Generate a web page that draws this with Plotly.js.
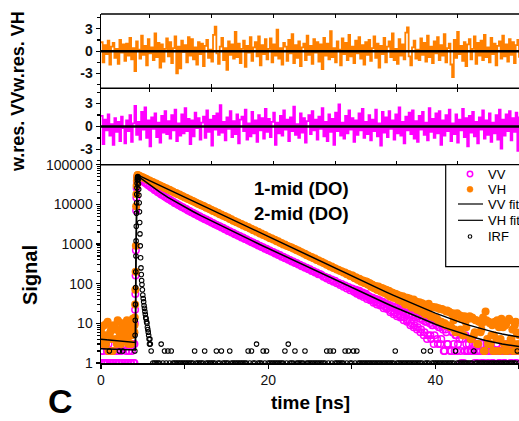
<!DOCTYPE html>
<html><head><meta charset="utf-8">
<script src="https://cdn.plot.ly/plotly-3.0.1.min.js"></script>
<style>html,body{margin:0;padding:0;background:#fff;}#chart{width:519px;height:421px;}</style>
</head><body><div id="chart"></div>
<script>
// ---------- data ----------
const timeStep = 0.2; // ns between channels of the data grid (t = 0 ... 50 ns)

const vhCounts = [
6,4,9,3,11,5,7,2,8,4,12,6,3,10,5,7,4,9,3,13,6,
9000,
55000,52900,49800,48300,45400,44000,41300,40200,37700,36700,
34300,33500,31300,30500,28500,27900,26000,25400,23700,23200,
21600,21100,19700,19300,18000,17600,16400,16000,14900,14700,
13700,13300,12500,12100,11400,11000,10400,10100,9500,9200,
8800,8200,8050,7500,7300,6800,6700,6200,6100,5650,
5550,5150,5100,4700,4650,4280,4200,3850,3800,3560,
3500,3250,3200,2950,2920,2700,2680,2450,2430,2230,
2220,2050,2030,1850,1840,1690,1680,1540,1530,1400,
1400,1300,1290,1180,1170,1070,1060,970,970,900,
880,840,820,770,750,700,690,640,620,580,
565,520,515,475,470,435,430,395,390,360,
355,330,325,300,295,272,270,248,245,228,
224,208,207,190,190,172,175,157,160,147,
138,137,126,128,115,119,104,112,96,99,
95,79,86,70,85,66,78,74,60,67,
66,47,60,44,56,53,39,48,36,45,
30,44,39,28,25,40,36,22,33,21,
32,19,17,28,31,15,26,14,25,13,
24,11,23,10,9,21,20,8,17,12,
6,18,16,7,15,5,11,14,13,4,
14,5,12,3,11,6,10,2,20,4,
11,3,9,5,2,12,8,4,10,3,
9,2,13,4,7,3,11,2,5];

const vvCounts = [
1,2,1,3,1,2,1,1,2,1,3,1,2,1,1,2,1,2,1,3,1,
7000,
49000,45800,41500,39200,35600,33800,30700,29100,26600,25300,
23100,22000,20200,19300,17700,17000,15700,15000,13800,13300,
12300,11800,10900,10500,9750,9400,8750,8450,7850,7600,
7050,6850,6350,6150,5700,5560,5180,5020,4680,4550,
4240,4130,3840,3740,3480,3390,3160,3080,2870,2800,
2600,2560,2360,2320,2140,2110,1950,1920,1770,1750,
1620,1590,1470,1450,1340,1320,1220,1200,1110,1100,
1010,1000,920,910,840,830,765,755,700,690,
640,630,580,575,530,525,480,480,440,435,
400,398,365,362,333,330,303,302,277,275,
252,252,230,230,210,209,191,192,174,175,
165,150,150,135,140,122,128,112,118,102,
106,92,98,84,90,76,82,68,76,64,
68,56,63,50,58,46,54,41,49,38,
44,33,40,30,38,28,35,24,32,23,
29,19,26,17,25,15,22,14,21,12,
18,11,17,9,16,8,14,7,15,6,
13,5,11,4,12,5,9,3,10,4,
8,3,9,2,7,3,8,2,6,3,
5,2,6,2,4,1,5,2,3,2,
4,2,3,1,2,2,3,1,2,2,
3,2,1,2,2,3,1,2,2,1,
2,3,2,1,2,2,1,2,2];

// half-step channels (t = 0.1 ... 3.9 ns and t = 30.1 ... 49.9 ns)
const vhPreHalfCounts = [8,3,5,10,2,6,4,9,7,3,11,5,8,4,6,12,3,7,5,9];
const vvPreHalfCounts = [2,1,1,2,3,1,2,1,1,2,1,2,1,3,1,1,2,1,2,1];
const vhTailHalfCounts = [
160,139,146,125,133,112,121,104,113,95,
104,84,93,77,86,70,79,63,72,58,
70,52,64,48,58,44,53,40,50,36,
48,33,44,30,42,27,38,25,35,23,
34,20,31,18,29,17,27,15,26,14,
25,12,23,11,22,10,20,9,19,8,
18,7,17,6,16,13,5,15,8,14,
15,4,13,6,12,3,11,7,14,2,
12,3,10,5,2,11,4,9,2,13,
8,2,10,3,12,4,2,9,6,3];
const vvTailHalfCounts = [
74,62,70,57,66,53,60,50,56,46,
47,40,44,36,41,33,38,30,35,27,
31,24,29,21,27,19,25,17,23,15,
20,14,19,12,17,10,16,9,15,8,
13,7,12,6,11,5,10,4,9,5,
9,3,8,4,7,2,6,3,8,2,
6,2,5,3,4,1,5,2,3,2,
4,2,3,1,2,3,2,1,2,2,
3,1,2,2,1,2,3,2,1,2,
2,1,2,3,2,1,2,2,1,2];

// extra channels on the rising edge
const riseTimes    = [4.00,4.04,4.08,4.11,4.14,4.17,4.23,4.26,4.29,4.32,4.36];
const vhRiseCounts = [9,14,30,70,200,900,18000,30000,40000,48000,54000];
const vvRiseCounts = [3,10,22,55,160,700,15000,26000,37000,45000,51000];

// fitted curves
const fitTimes = [0,1,2,3,4,4.12,4.16,4.2,4.25,4.3,4.35,4.4,4.5,4.7,
 5,6,7,8,9,10,11,12,13,14,15,16,17,18,19,20,21,22,23,24,25,26,27,28,29,30,
 31,32,33,34,35,36,37,38,39,40,41,42,43,44,45,46,47,48,49,50];
const vhFit = [3.95,3.78,3.62,3.47,3.33,3.3,200,3000,15000,32000,46000,52500,53500,51500,
 47900,38000,30200,24000,19070,15150,12030,9560,7590,6030,4790,3806,3023,2401,1908,1515,
 1204,956,759,603,479,381,303,240,191,154,123,98.6,79,63.3,50.9,41,33.2,27,22.1,18.1,
 15,12.6,10.6,9.0,7.8,6.8,6.0,5.4,4.9,4.5];
const vvFit = [2.3,2.26,2.22,2.18,2.15,2.14,180,2800,14000,30000,44000,50500,50000,46500,
 41800,28900,20610,15080,11270,8570,6600,5120,4010,3150,2480,1960,1550,1230,975,775,
 615,489,389,309,246,196,156,124,99,78.9,63.1,50.5,40.5,32.5,26.2,21.2,17.2,14,11.5,9.5,
 7.9,6.7,5.7,4.9,4.2,3.7,3.3,3.0,2.8,2.6];

// instrument response function
const irfPeakTimes = [4.05,4.08,4.10,4.12,4.14,4.16,4.18,4.20,4.22,4.24,4.26,4.28,4.30,4.32,4.34,4.36,4.38,4.40,4.42,
 4.45,4.48,4.51,4.54,4.57,4.60,4.63,4.66,4.70,4.74,4.78,4.82,4.86,4.90,
 4.95,5.00,5.05,5.10,5.15,5.20,5.25,5.30,5.35,5.40,5.45,5.50,5.55,5.60,5.65,5.70,5.75,5.80,5.85,5.90];
const irfPeakCounts = [2,5,12,30,80,200,500,1200,2800,6000,11000,18000,26000,34000,41000,46000,49000,50000,48000,
 42000,33000,24000,17000,11000,6500,3500,1800,900,450,250,170,120,95,
 70,52,42,35,28,24,20,17,14,13,11,10,8,7,6,5,4,3,4,3];
const irfGridCounts = [
0,0,0,0,0,2,0,0,0,0,0,2,0,2,0,0,0,0,0,0,0,
0,0,0,0,0,0,0,0,0,
2,1,1,1,1,1,3,1,2,1,
2,1,2,1,1,1,1,1,1,1,
1,1,1,1,1,1,2,1,1,1,
1,1,2,1,1,1,1,1,1,2,
1,1,2,1,1,1,1,2,1,1,
1,1,1,1,1,1,1,1,2,1,
2,1,1,3,1,1,1,2,1,2,
1,1,1,1,1,1,1,1,1,1,
2,1,3,1,1,1,2,1,1,1,
1,1,2,1,1,1,1,1,1,1,
1,1,1,1,1,2,1,2,1,2,
1,1,1,1,1,1,2,1,2,1,
1,2,1,2,1,1,1,1,1,1,
1,1,1,1,1,1,1,1,1,1,
1,1,1,1,1,1,2,1,1,1,
1,1,1,1,1,1,1,1,1,1,
1,1,1,2,1,1,1,2,1,1,
1,1,1,1,1,1,1,1,1,1,
1,1,2,1,1,1,1,1,1,1,
1,1,1,2,1,1,1,1,1,1,
1,1,1,1,1,1,1,1,1,1,
1,1,1,1,1,1,1,1,1,2,
1];

// weighted residuals
const vhResiduals = [
1.2,-1.5,0.8,-0.4,1.4,-1.8,0.6,1.1,-0.9,0.3,-1.7,1.5,-0.2,0.9,-1.3,1.0,-0.6,1.8,-1.1,0.4,
-2.7,1.3,0.2,-1.0,2.1,-0.5,0.7,-1.9,1.6,-0.3,0.5,-1.2,2.4,-0.8,1.1,-2.2,0.9,-1.4,0.3,1.7,
-0.7,1.2,-1.6,0.4,2.0,-3.0,0.6,-2.3,1.4,-0.1,0.8,-1.5,1.9,-0.6,1.6,-1.1,0.5,-1.8,1.2,-0.4,
1.0,-2.0,0.7,1.5,-0.9,0.2,-1.4,2.2,3.3,-0.3,-1.7,0.6,1.8,-1.2,0.4,-2.5,1.3,-0.5,0.9,-1.0,
2.6,-0.8,1.0,-1.6,0.3,1.4,-2.1,0.7,-0.2,1.9,-1.3,0.5,1.2,-0.7,2.0,-1.9,0.8,-0.4,1.6,-1.1,
0.3,1.7,-1.5,0.9,-0.6,2.9,-1.0,0.4,-1.8,1.1,0.6,-1.3,1.5,-0.3,2.3,-1.6,0.8,-0.9,1.3,-2.0,
0.5,1.0,-1.2,2.1,-0.5,0.7,-1.7,1.6,-0.2,1.2,-1.4,0.9,-2.4,1.8,-0.6,1.0,-1.1,2.7,-0.8,0.4,
-1.5,1.3,0.2,-1.9,1.7,-0.4,1.1,-1.2,2.2,-0.7,0.6,-1.6,1.4,-0.3,1.9,-1.0,0.8,-1.8,1.2,-0.5,
1.5,-1.3,0.4,2.0,-0.9,1.0,-2.2,0.7,-0.4,1.8,-1.5,0.6,1.3,-0.8,2.4,-1.2,0.3,-1.7,1.6,-0.6,
0.9,-1.1,2.5,3.2,-0.7,-1.9,0.5,1.4,-1.0,0.2,-1.2,1.7,-0.5,1.1,-1.4,2.1,-0.8,0.6,-1.6,1.3,
-0.3,1.9,-1.2,0.8,-0.6,2.3,-1.5,0.4,1.0,-1.8,-3.5,1.5,-0.9,2.6,-0.4,0.7,-1.3,1.2,-2.0,0.9,
1.6,-1.1,0.3,2.0,-1.7,1.1,-0.6,1.4,-1.2,2.2,-0.8,0.5,-1.5,1.8,-0.4,1.0,-1.9,0.7,1.3,-1.0,
2.1,-0.7,0.9,-1.4,1.6,-0.5,1.2,-1.6,0.8,1.5,-0.9];
const vvResiduals = [
1.4,-2.3,0.9,-0.5,1.6,-1.2,0.3,-2.4,1.1,-0.7,0.6,-1.9,1.3,-0.2,-2.2,0.8,-0.6,1.5,-2.0,0.4,
2.7,-1.1,0.6,-1.7,1.9,-0.4,2.5,-1.5,0.8,-2.6,1.2,-0.3,1.7,-1.4,0.5,-2.1,1.4,-0.8,2.0,-1.0,
0.7,-1.6,1.5,-0.5,2.2,-1.9,0.4,-1.2,1.6,-0.9,2.4,-0.6,1.0,-2.3,0.8,-1.3,1.8,-0.2,1.1,-1.7,
0.5,1.3,-1.5,2.1,-0.7,0.9,-2.5,1.4,-0.4,1.7,-1.1,2.8,-0.8,0.6,-1.8,1.2,-0.3,2.0,-1.4,0.7,
-1.0,1.6,-2.2,0.9,1.3,-0.6,2.2,-1.7,0.4,-1.3,1.9,-0.9,0.8,-2.0,1.5,-0.5,1.1,-1.6,2.3,-0.7,
1.0,-1.4,0.6,1.8,-2.4,0.5,-0.9,1.4,-1.2,2.1,-0.4,0.9,-1.9,1.2,-0.6,2.6,-1.1,0.3,-1.5,1.7,
-0.8,1.1,-2.1,0.7,1.5,-1.0,2.0,-0.5,0.9,-1.7,1.3,-0.3,2.4,-1.3,0.6,-1.9,1.6,-0.7,1.0,-2.4,
1.8,-0.6,2.9,-1.2,0.5,-1.6,1.4,-0.9,2.1,-0.4,1.1,-2.0,0.8,-1.1,1.7,-0.5,2.3,-1.5,0.6,-1.0,
1.5,-1.8,0.9,-0.6,2.2,-1.3,0.4,-2.5,1.9,-0.8,1.2,-1.4,2.0,-0.3,0.8,-1.7,1.6,-0.9,2.5,-1.2,
0.6,-2.2,1.3,-0.5,1.8,-1.0,2.1,-1.6,0.7,-2.0,1.4,-0.4,1.9,-1.1,0.5,-1.8,2.4,-0.7,1.0,-1.5,
1.7,-0.9,2.0,-2.4,0.8,-1.2,1.5,-0.6,2.2,-1.9,0.4,-1.0,1.6,-2.1,0.9,-0.5,2.3,-1.4,1.1,-2.6,
1.4,-0.8,1.9,-1.3,0.6,-2.2,1.2,-0.4,2.1,-1.6,0.8,-1.1,1.7,-2.0,0.5,-0.9,1.5,-1.7,2.2,-2.9,
0.9,-1.2,1.6,-0.6,2.0,-1.8,1.1,-0.7,1.8,-3.2,1.3];

// axis ticks
const residualTickVals = [-3, 0, 3];
const residualTickText = ['-3', '0', '3'];
const residualMinorVals = [-4.5, -1.5, 1.5, 4.5];
const boundaryTickTimes = [5.8, 13.2, 20.6, 28.0, 35.3, 42.7, 50.1];
const legendLabels = ['VV', 'VH', 'VV fit', 'VH fit', 'IRF'];

// ---------- drawing ----------
const FONT = 'Arial, "Liberation Sans", sans-serif';
const ORANGE = '#ff8000', MAGENTA = '#ff00ff';
const W = 519, H = 421;
const M = {l: 101, r: 0, t: 14, b: 58};
const plotW = W - M.l - M.r, plotH = H - M.t - M.b;
const px = x => (x - M.l) / plotW;
const py = y => (H - M.b - y) / plotH;

const gridTimes = vhCounts.map((_, i) => +(i * timeStep).toFixed(2));
const preHalfTimes = vhPreHalfCounts.map((_, i) => +(0.1 + i * timeStep).toFixed(2));
const tailHalfTimes = vhTailHalfCounts.map((_, i) => +(30.1 + i * timeStep).toFixed(2));

const irfX = [], irfY = [];
gridTimes.forEach((t, i) => { if (irfGridCounts[i] > 0) { irfX.push(t); irfY.push(irfGridCounts[i]); } });
irfPeakTimes.forEach((t, i) => { irfX.push(t); irfY.push(irfPeakCounts[i]); });

const dataX = gridTimes.concat(riseTimes, preHalfTimes, tailHalfTimes);
const traces = [
  {type:'scatter', mode:'markers', name:'VV', x: dataX,
   y: vvCounts.concat(vvRiseCounts, vvPreHalfCounts, vvTailHalfCounts),
   xaxis:'x', yaxis:'y', marker:{symbol:'circle-open', size:6.5, color:MAGENTA, line:{width:1.5, color:MAGENTA}}},
  {type:'scatter', mode:'markers', name:'VH', x: dataX,
   y: vhCounts.concat(vhRiseCounts, vhPreHalfCounts, vhTailHalfCounts),
   xaxis:'x', yaxis:'y', marker:{symbol:'circle', size:8, color:ORANGE}},
  {type:'scatter', mode:'lines', name:'VV fit', x: fitTimes, y: vvFit, xaxis:'x', yaxis:'y', line:{color:'#000', width:1.5}},
  {type:'scatter', mode:'lines', name:'VH fit', x: fitTimes, y: vhFit, xaxis:'x', yaxis:'y', line:{color:'#000', width:1.5}},
  {type:'scatter', mode:'markers', name:'IRF', x: irfX, y: irfY, xaxis:'x', yaxis:'y',
   marker:{symbol:'circle-open', size:4.5, color:'#000', line:{width:1.1, color:'#000'}}},
  {type:'scatter', mode:'lines', name:'w.res. VV', x: gridTimes, y: vvResiduals, xaxis:'x2', yaxis:'y2',
   line:{color:MAGENTA, width:1.8, shape:'hv'}},
  {type:'scatter', mode:'lines', name:'w.res. VH', x: gridTimes, y: vhResiduals, xaxis:'x3', yaxis:'y3',
   line:{color:ORANGE, width:1.8, shape:'hv'}}
];

const dMain = [0, py(164.7)], dMid = [py(164.7), py(88.3)], dTop = [py(88.3), 1];

const tickFont = {family: FONT, size: 14, color: '#111'};
const boldTickFont = {family: FONT, size: 14, color: '#111', weight: 'bold'};
const resAxis = dom => ({domain: dom, range: [-5, 5], anchor: 'x', showline: true, linecolor: '#000', linewidth: 1.5,
  ticks: 'outside', ticklen: 4, tickwidth: 1.2, tickcolor: '#000', tickmode: 'array', tickvals: residualTickVals,
  ticktext: residualTickText, tickfont: boldTickFont, showgrid: false, zeroline: false,
  minor: {tickmode: 'array', tickvals: residualMinorVals, ticks: 'outside', ticklen: 2.5, tickcolor: '#000', showgrid: false}});
const resX = anchor => ({domain: [0, 1], range: [0, 50], anchor: anchor, showline: false, showgrid: false, zeroline: false,
  tickmode: 'array', tickvals: boundaryTickTimes, ticks: 'inside', ticklen: 4, tickwidth: 1, tickcolor: '#000',
  mirror: 'ticks', showticklabels: false});

const shapes = [];
[1, dTop[0], dMid[0]].forEach(y => shapes.push({type:'line', xref:'paper', yref:'paper', x0:0, x1:1, y0:y, y1:y,
  line:{color:'#000', width:1.5}, layer:'above'}));
shapes.push({type:'line', xref:'paper', yref:'y2', x0:0, x1:1, y0:0, y1:0, line:{color:'#000', width:2.5}, layer:'above'});
shapes.push({type:'line', xref:'paper', yref:'y3', x0:0, x1:1, y0:0, y1:0, line:{color:'#000', width:2.5}, layer:'above'});
// legend box and keys
shapes.push({type:'rect', xref:'paper', yref:'paper', x0:px(445.7), x1:px(540), y0:py(266.7), y1:py(164.7),
  line:{color:'#000', width:1.2}, fillcolor:'#fff', layer:'above'});
const legendY = [174, 189.3, 204, 220.3, 236.5];
const keyX = px(470);
const circleKey = (y, r, lineColor, fill, w) => ({type:'circle', xref:'paper', yref:'paper', xsizemode:'pixel', ysizemode:'pixel',
  xanchor:keyX, yanchor:py(y), x0:-r, x1:r, y0:-r, y1:r, line:{color:lineColor, width:w}, fillcolor:fill, layer:'above'});
shapes.push(circleKey(legendY[0], 2.7, MAGENTA, 'rgba(0,0,0,0)', 1.5));
shapes.push(circleKey(legendY[1], 3, ORANGE, ORANGE, 0.5));
shapes.push({type:'line', xref:'paper', yref:'paper', x0:px(458), x1:px(483), y0:py(legendY[2]), y1:py(legendY[2]), line:{color:'#000', width:1.2}, layer:'above'});
shapes.push({type:'line', xref:'paper', yref:'paper', x0:px(458), x1:px(483), y0:py(legendY[3]), y1:py(legendY[3]), line:{color:'#000', width:1.2}, layer:'above'});
shapes.push(circleKey(legendY[4], 1.8, '#000', 'rgba(0,0,0,0)', 1.1));

const ann = (text, x, y, size, opts) => Object.assign({text: text, xref:'paper', yref:'paper', x: x, y: y, showarrow:false,
  xanchor:'center', yanchor:'middle', font:{family:FONT, size:size, color:'#000'}}, opts || {});
const annotations = [
  ann('<b>w.res. VVw.res. VH</b>', px(18), py(92), 18, {textangle: -90}),
  ann('<b>Signal</b>', px(30), py(275), 20, {textangle: -90}),
  ann('<b>time [ns]</b>', px(310), py(402), 19),
  ann('<b>C</b>', px(60), py(401), 34),
  ann('<b>1-mid (DO)</b>', px(301.7), py(188), 18.5),
  ann('<b>2-mid (DO)</b>', px(301.7), py(213), 18.5)
];
legendLabels.forEach((lab, i) => annotations.push(ann(lab, px(486), py(legendY[i]), 13, {xanchor:'left'})));

const layout = {
  width: W, height: H, margin: M, paper_bgcolor: '#fff', plot_bgcolor: '#fff', showlegend: false,
  font: {family: FONT, color: '#000'},
  xaxis: {domain: [0, 1], range: [0, 50], anchor: 'y', showline: true, linecolor: '#000', linewidth: 1.5,
    ticks: 'outside', ticklen: 4, tickwidth: 1.2, tickcolor: '#000', tick0: 0, dtick: 20, tickfont: tickFont,
    showgrid: false, zeroline: false,
    minor: {dtick: 10, ticks: 'outside', ticklen: 4, tickcolor: '#000', showgrid: false}},
  xaxis2: resX('y2'),
  xaxis3: resX('y3'),
  xaxis4: {overlaying: 'x', anchor: 'y', side: 'top', range: [0, 50], showline: false, showgrid: false, zeroline: false,
    tickmode: 'array', tickvals: boundaryTickTimes, ticks: 'inside', ticklen: 4, tickwidth: 1, tickcolor: '#000', showticklabels: false},
  yaxis: {domain: dMain, type: 'log', range: [0, 5], anchor: 'x', showline: true, linecolor: '#000', linewidth: 1.5,
    ticks: 'outside', ticklen: 4, tickwidth: 1.2, tickcolor: '#000', dtick: 1, tickformat: 'd',
    tickfont: tickFont, showgrid: false, zeroline: false,
    minor: {dtick: 'D1', ticks: 'outside', ticklen: 2.5, tickcolor: '#000', showgrid: false}},
  yaxis2: resAxis(dMid),
  yaxis3: resAxis(dTop),
  shapes: shapes,
  annotations: annotations
};

Plotly.newPlot('chart', traces, layout, {staticPlot: true, displayModeBar: false});
</script></body></html>
